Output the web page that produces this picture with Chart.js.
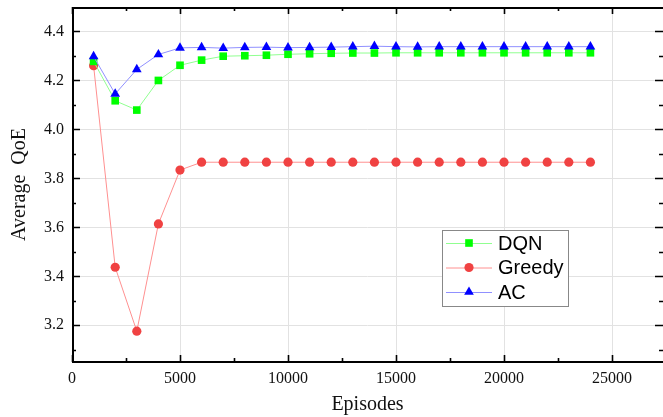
<!DOCTYPE html>
<html>
<head>
<meta charset="utf-8">
<script src="https://cdn.jsdelivr.net/npm/chart.js@4/dist/chart.umd.min.js"></script>
<style>
  html, body { margin: 0; padding: 0; background: #fff; overflow: hidden; }
  #wrap { position: relative; width: 663px; height: 417px; }
</style>
</head>
<body>
<div id="wrap"><canvas id="chart"></canvas></div>
<script>
const episodes = [1000, 2000, 3000, 4000, 5000, 6000, 7000, 8000, 9000, 10000, 11000, 12000,
  13000, 14000, 15000, 16000, 17000, 18000, 19000, 20000, 21000, 22000, 23000, 24000];
const dqn = [4.278, 4.117, 4.079, 4.200, 4.262, 4.283, 4.299, 4.301, 4.303, 4.307, 4.309, 4.311,
  4.312, 4.312, 4.313, 4.313, 4.313, 4.313, 4.313, 4.313, 4.313, 4.313, 4.313, 4.313];
const greedy = [4.260, 3.437, 3.176, 3.614, 3.834, 3.866, 3.866, 3.866, 3.866, 3.866, 3.866, 3.866,
  3.866, 3.866, 3.866, 3.866, 3.866, 3.866, 3.866, 3.866, 3.866, 3.866, 3.866, 3.866];
const ac = [4.298, 4.145, 4.245, 4.306, 4.333, 4.335, 4.332, 4.335, 4.336, 4.334, 4.335, 4.336,
  4.338, 4.340, 4.338, 4.337, 4.338, 4.338, 4.338, 4.338, 4.338, 4.338, 4.338, 4.338];
const xTicks = [0, 5000, 10000, 15000, 20000, 25000];
const yTicks = [3.2, 3.4, 3.6, 3.8, 4.0, 4.2, 4.4];

const serif = '"Liberation Serif", "Times New Roman", serif';
const sans = '"Liberation Sans", Arial, sans-serif';

const series = [
  { label: 'DQN', values: dqn, line: '#90ff90', fill: '#00ff00', style: 'rect', radius: 5.4, order: 1 },
  { label: 'Greedy', values: greedy, line: '#ff9090', fill: '#f04242', style: 'circle', radius: 4.6, order: 2 },
  { label: 'AC', values: ac, line: '#9090ff', fill: '#0000ff', style: 'triangle', radius: 5.6, order: 0 }
];

function marker(ctx, style, x, y, r, color) {
  ctx.fillStyle = color;
  ctx.beginPath();
  if (style === 'rect') {
    const s = r / Math.SQRT2;
    ctx.rect(x - s, y - s, 2 * s, 2 * s);
  } else if (style === 'circle') {
    ctx.arc(x, y, r, 0, Math.PI * 2);
  } else {
    const side = r * Math.sqrt(3);
    const h = side * Math.sqrt(3) / 2;
    ctx.moveTo(x - side / 2, y + h / 3);
    ctx.lineTo(x + side / 2, y + h / 3);
    ctx.lineTo(x, y - 2 * h / 3);
    ctx.closePath();
  }
  ctx.fill();
}

// frame with inward ticks, plus the boxed legend inside the plot
const framePlugin = {
  id: 'frame',
  beforeDatasetsDraw(chart) {
    const { ctx, chartArea: a, scales: { x, y } } = chart;
    ctx.save();
    ctx.strokeStyle = '#000';
    ctx.lineWidth = 2;
    ctx.beginPath();
    ctx.moveTo(a.left + 1, a.top); ctx.lineTo(a.left + 1, a.bottom);
    ctx.moveTo(a.left, a.bottom); ctx.lineTo(a.right, a.bottom);
    ctx.moveTo(a.left, a.top + 1); ctx.lineTo(a.right, a.top + 1);
    ctx.stroke();
    ctx.lineWidth = 1.6;
    ctx.beginPath();
    xTicks.forEach(v => {
      const px = Math.round(x.getPixelForValue(v)) + 0.5;
      ctx.moveTo(px, a.bottom); ctx.lineTo(px, a.bottom - 7);
      ctx.moveTo(px, a.top); ctx.lineTo(px, a.top + 7);
      const m = x.getPixelForValue(v + 2500);
      if (m < a.right - 2) {
        const pm = Math.round(m) + 0.5;
        ctx.moveTo(pm, a.bottom); ctx.lineTo(pm, a.bottom - 4);
        ctx.moveTo(pm, a.top); ctx.lineTo(pm, a.top + 4);
      }
    });
    const yMinor = [3.1, 3.3, 3.5, 3.7, 3.9, 4.1, 4.3];
    yTicks.forEach(v => {
      const py = Math.round(y.getPixelForValue(v)) + 0.5;
      ctx.moveTo(a.left, py); ctx.lineTo(a.left + 8, py);
      ctx.moveTo(a.right - 8, py); ctx.lineTo(a.right, py);
    });
    yMinor.forEach(v => {
      const py = Math.round(y.getPixelForValue(v)) + 0.5;
      ctx.moveTo(a.left, py); ctx.lineTo(a.left + 4, py);
      ctx.moveTo(a.right - 4, py); ctx.lineTo(a.right, py);
    });
    ctx.stroke();
    ctx.restore();
  },
  afterDraw(chart) {
    const ctx = chart.ctx;
    ctx.save();
    ctx.fillStyle = '#fff';
    ctx.fillRect(442, 230, 126, 76);
    ctx.strokeStyle = '#888';
    ctx.lineWidth = 1;
    ctx.strokeRect(442.5, 230.5, 126, 76);
    ctx.font = '20px ' + sans;
    ctx.textBaseline = 'middle';
    series.forEach((s, i) => {
      const cy = 243 + i * 24.5;
      ctx.strokeStyle = s.line;
      ctx.lineWidth = 1;
      ctx.beginPath();
      ctx.moveTo(446, cy + 0.5); ctx.lineTo(492, cy + 0.5);
      ctx.stroke();
      marker(ctx, s.style, 469, cy, s.radius, s.fill);
      ctx.fillStyle = '#000';
      ctx.fillText(s.label, 498, cy + 1);
    });
    ctx.restore();
  }
};

new Chart(document.getElementById('chart'), {
  type: 'line',
  data: {
    labels: episodes,
    datasets: series.map(s => ({
      label: s.label,
      data: s.values.map((v, i) => ({ x: episodes[i], y: v })),
      borderColor: s.line,
      borderWidth: 1,
      pointStyle: s.style,
      pointRadius: s.radius,
      pointBackgroundColor: s.fill,
      pointBorderColor: s.fill,
      pointBorderWidth: 0,
      tension: 0,
      order: s.order
    }))
  },
  options: {
    responsive: true,
    maintainAspectRatio: false,
    animation: false,
    layout: { autoPadding: false, padding: { top: 7, right: 0, left: 0, bottom: 0 } },
    plugins: { legend: { display: false }, tooltip: { enabled: false } },
    scales: {
      x: {
        type: 'linear',
        min: 0,
        max: 27360,
        afterBuildTicks: scale => { scale.ticks = xTicks.map(v => ({ value: v })); },
        afterFit: scale => { scale.height = 55; scale.paddingLeft = 0; scale.paddingRight = 0; },
        grid: { color: '#e2e2e2', lineWidth: 1, drawTicks: false },
        border: { display: false },
        ticks: { padding: 7, color: '#111', maxRotation: 0, font: { family: serif, size: 16 }, callback: v => String(v) },
        title: { display: true, text: 'Episodes', color: '#111', padding: { top: 0, bottom: 0 }, font: { family: serif, size: 20 } }
      },
      y: {
        min: 3.05,
        max: 4.5,
        afterBuildTicks: scale => { scale.ticks = yTicks.map(v => ({ value: v })); },
        afterFit: scale => { scale.width = 72; scale.paddingTop = 0; scale.paddingBottom = 0; },
        grid: { color: '#e2e2e2', lineWidth: 1, drawTicks: false },
        border: { display: false },
        ticks: { padding: 8, color: '#111', font: { family: serif, size: 16 }, callback: v => v.toFixed(1) },
        title: { display: true, text: 'Average  QoE', color: '#111', padding: { top: 8, bottom: 0 }, font: { family: serif, size: 20 } }
      }
    }
  },
  plugins: [framePlugin]
});
</script>
</body>
</html>
